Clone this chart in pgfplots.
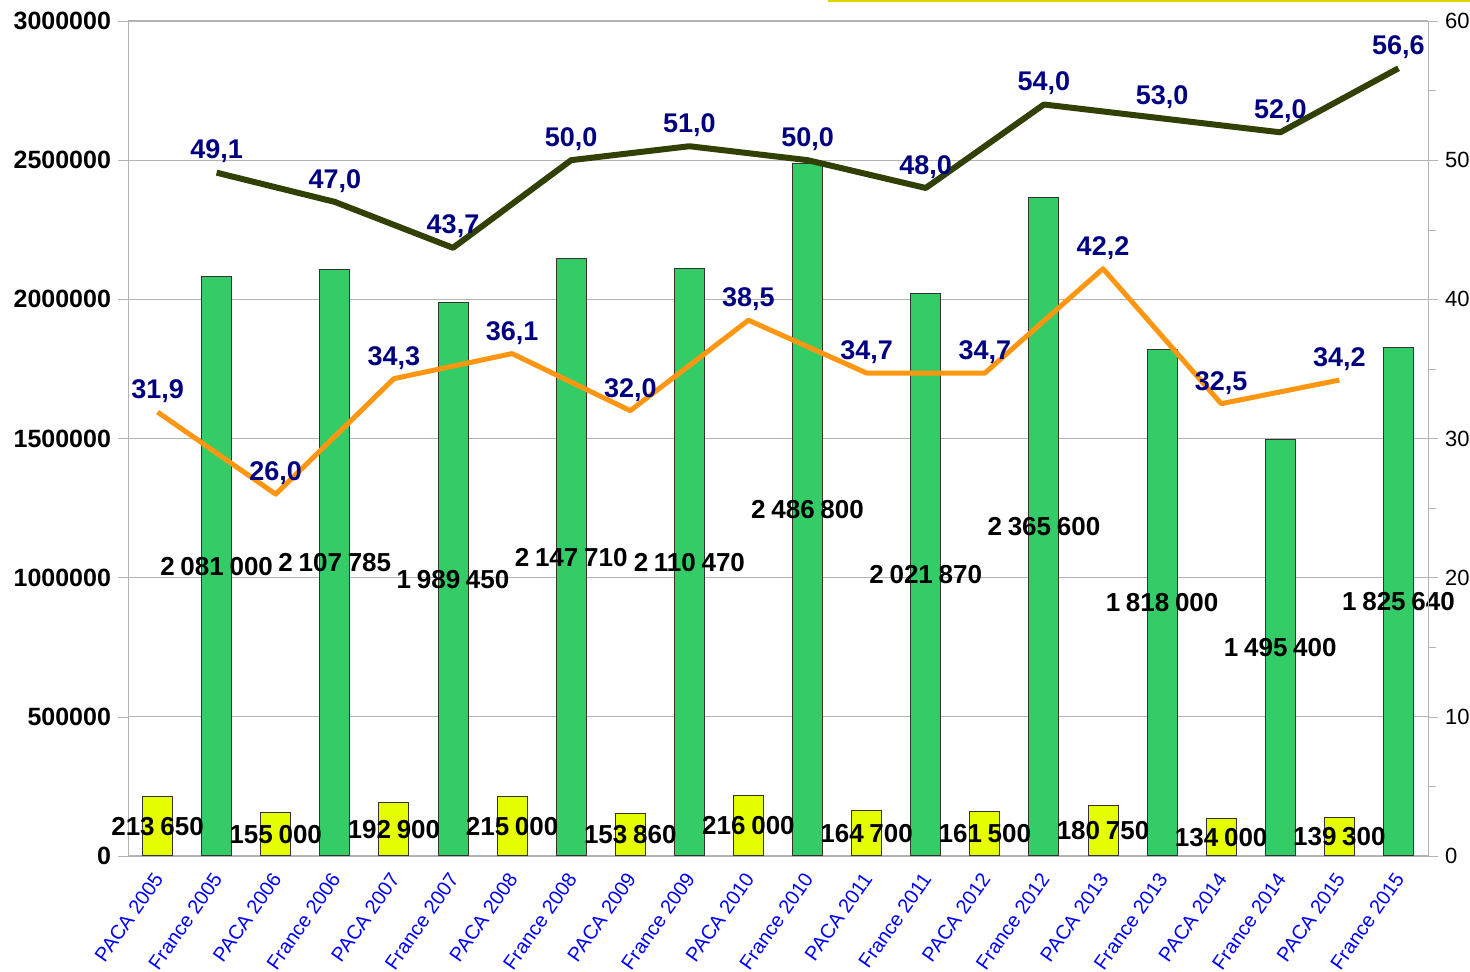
\documentclass[border=0pt]{standalone}
\usepackage{fontspec}
\setmainfont{Liberation Sans}
\usepackage{pgfplots}
\usepackage{pgfplotstable}
\pgfplotsset{compat=1.18}

\definecolor{barGreen}{HTML}{33CC66}
\definecolor{barYellow}{HTML}{E6FF00}
\definecolor{lineOrange}{HTML}{FF9612}
\definecolor{lineDark}{HTML}{314004}
\definecolor{labNavy}{HTML}{000080}
\definecolor{axGray}{HTML}{B3B3B3}
\definecolor{topYellow}{HTML}{D8D800}

% bar data: position, value
\pgfplotstableread{
x v
0 213650
2 155000
4 192900
6 215000
8 153860
10 216000
12 164700
14 161500
16 180750
18 134000
20 139300
}\paca
\pgfplotstableread{
x v
1 2081000
3 2107785
5 1989450
7 2147710
9 2110470
11 2486800
13 2021870
15 2365600
17 1818000
19 1495400
21 1825640
}\france
% percentages (right axis)
\pgfplotstableread{
x p
0 31.9
2 26.0
4 34.3
6 36.1
8 32.0
10 38.5
12 34.7
14 34.7
16 42.2
18 32.5
20 34.2
}\pacapct
\pgfplotstableread{
x p
1 49.1
3 47.0
5 43.7
7 50.0
9 51.0
11 50.0
13 48.0
15 54.0
17 53.0
19 52.0
21 56.6
}\francepct

\pgfplotsset{
  base/.style={
    scale only axis, width=650pt, height=417.5pt,
    xmin=-0.5, xmax=21.5,
    axis line style={draw=axGray},
    tick style={draw=axGray},
    tick align=outside,
    major tick length=5pt, minor tick length=4pt,
  },
  barlab/.style={draw=none, nodes near coords={\pgfmathprintnumber[fixed,precision=0,1000 sep={\hspace{0.22em}},assume math mode=true]{\pgfplotspointmeta}},
    point meta=explicit,
    every node near coord/.append style={anchor=center, font=\fontsize{13pt}{15pt}\selectfont\bfseries, text=black}},
  pctlab/.style={nodes near coords={\pgfmathprintnumber[fixed,fixed zerofill,precision=1,use comma,assume math mode=true]{\pgfplotspointmeta}},
    every node near coord/.append style={anchor=south, yshift=0pt, font=\fontsize{13.5pt}{15pt}\selectfont\bfseries, text=labNavy}},
}

\begin{document}
\begin{tikzpicture}
\begin{axis}[base,
  ymin=0, ymax=3000000,
  axis y line*=left, axis x line*=bottom,
  ytick={0,500000,1000000,1500000,2000000,2500000,3000000},
  scaled y ticks=false,
  yticklabel style={font=\fontsize{12.5pt}{14pt}\selectfont\bfseries, /pgf/number format/.cd, fixed, 1000 sep={}, assume math mode=true},
  ymajorgrids, grid style={draw=axGray, line width=0.6pt},
  xtick={0,...,21},
  xticklabels={PACA 2005, France 2005, PACA 2006, France 2006, PACA 2007, France 2007, PACA 2008, France 2008, PACA 2009, France 2009, PACA 2010, France 2010, PACA 2011, France 2011, PACA 2012, France 2012, PACA 2013, France 2013, PACA 2014, France 2014, PACA 2015, France 2015},
  xtick style={draw=none},
  minor xtick={-0.5,0.5,...,21.5},
  xticklabel style={rotate=55, anchor=east, text=blue, font=\fontsize{10pt}{12pt}\selectfont, yshift=-3pt},
  clip=false,
]
\coordinate (bl) at (rel axis cs:0,0);
\coordinate (tr) at (rel axis cs:1,1);
\addplot[ybar, bar width=15pt, bar shift=0pt, fill=barYellow, draw=black!80, line width=0.5pt] table[x=x, y=v]{\paca};
\addplot[ybar, bar width=15pt, bar shift=0pt, fill=barGreen, draw=black!80, line width=0.5pt] table[x=x, y=v]{\france};
\addplot[barlab] table[x=x, y expr=\thisrow{v}/2, meta=v]{\paca};
\addplot[barlab] table[x=x, y expr=\thisrow{v}/2, meta=v]{\france};
\end{axis}
\begin{axis}[base,
  ymin=0, ymax=60,
  axis y line*=right, axis x line=none,
  ytick={0,10,20,30,40,50,60},
  minor ytick={5,15,25,35,45,55},
  yticklabel style={font=\fontsize{11pt}{13pt}\selectfont, /pgf/number format/assume math mode=true},
  clip=false,
]
\addplot[lineOrange, line width=2.5pt, line join=round, pctlab] table[x=x, y=p]{\pacapct};
\addplot[lineDark, line width=3pt, line join=round, pctlab] table[x=x, y=p]{\francepct};
\end{axis}
\draw[topYellow, line width=1pt] ([shift={(350pt,10pt)}]bl|-tr) -- ([shift={(21pt,10pt)}]tr);
\pgfresetboundingbox
\path ([shift={(-64pt,-58pt)}]bl) rectangle ([shift={(21pt,10.5pt)}]tr);
\end{tikzpicture}
\end{document}
